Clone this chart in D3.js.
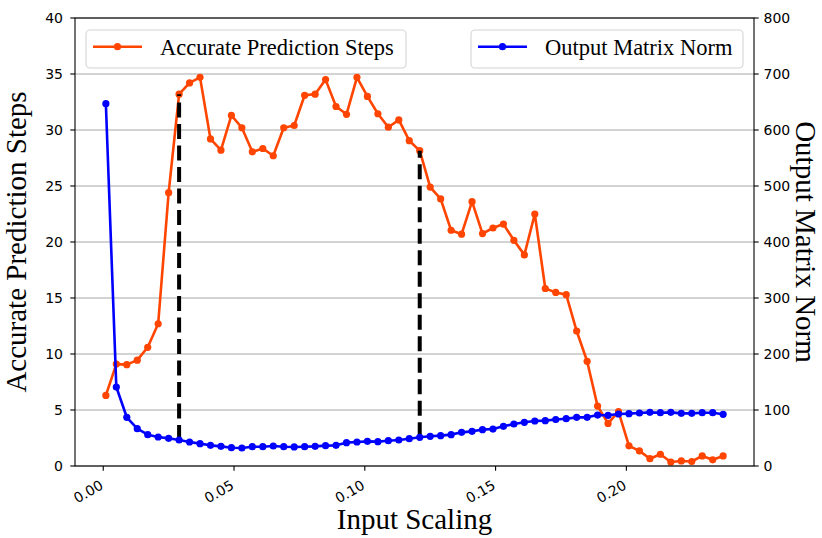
<!DOCTYPE html>
<html>
<head>
<meta charset="utf-8">
<script src="https://cdn.jsdelivr.net/npm/d3@7"></script>
<style>
  body { margin: 0; background: #fff; }
</style>
</head>
<body>
<div class="chart"></div>
<script>
// input scaling values (x)
var scaling = [0.001,0.005,0.009,0.013,0.017,0.021,0.025,0.029,0.033,0.037,
               0.041,0.045,0.049,0.053,0.057,0.061,0.065,0.069,0.073,0.077,
               0.081,0.085,0.089,0.093,0.097,0.101,0.105,0.109,0.113,0.117,
               0.121,0.125,0.129,0.133,0.137,0.141,0.145,0.149,0.153,0.157,
               0.161,0.165,0.169,0.173,0.177,0.181,0.185,0.189,0.193,0.197,
               0.201,0.205,0.209,0.213,0.217,0.221,0.225,0.229,0.233,0.237]

// accurate prediction steps (left axis)
var steps = [6.3,9.1,9.05,9.45,10.6,12.7,24.4,33.2,34.2,34.7,
             29.2,28.2,31.3,30.2,28.05,28.35,27.7,30.2,30.4,33.1,
             33.2,34.5,32.1,31.4,34.7,33.0,31.45,30.25,30.9,29.05,
             28.15,24.9,23.85,21.05,20.7,23.6,20.75,21.25,21.6,20.15,
             18.85,22.5,15.85,15.5,15.3,12.05,9.35,5.35,3.8,4.85,
             1.8,1.35,0.65,1.05,0.35,0.45,0.4,0.9,0.55,0.9]

// output matrix norm (right axis)
var norms = [647,141,87,66.6,55.9,51.8,49.4,46.4,42.9,39.9,
             36.9,35.1,32.7,32.1,34.5,34.5,35.7,34.5,34,34.5,
             35.1,36.3,36.9,41.7,42.9,44,43.5,45.2,46.4,48.8,
             51.2,53,54.2,56,60.1,61.9,64.9,66,70.8,75,
             78,80.4,81,83,84.5,86.9,86.9,91,90.5,92.9,
             93.5,94.6,95.8,95.2,95.8,94,94,95.2,95.2,92.3]

// indices where the dashed markers are drawn
var markIdx = [7, 30]

var leftTicks = [0,5,10,15,20,25,30,35,40]
var rightTicks = [0,100,200,300,400,500,600,700,800]
var xTicks = [0.00,0.05,0.10,0.15,0.20]

var W = 822, H = 538
var L = 75, R = 754, T = 18, B = 466
var orange = "#ff4500", blue = "#0000ff"
var serif = "'Liberation Serif', 'Times New Roman', serif"
var sans = "'DejaVu Sans', sans-serif"

var svg = d3.select(".chart").append("svg").attr("width", W).attr("height", H)
svg.append("rect").attr("width", W).attr("height", H).attr("fill", "#fff")

var xmin = d3.min(scaling), xmax = d3.max(scaling), pad = (xmax - xmin) * 0.05
var x = d3.scaleLinear().domain([xmin - pad, xmax + pad]).range([L, R])
var y1 = d3.scaleLinear().domain([0, 40]).range([B, T])
var y2 = d3.scaleLinear().domain([0, 800]).range([B, T])

// grid
svg.append("g").selectAll("line").data(leftTicks).enter().append("line")
  .attr("x1", L).attr("x2", R)
  .attr("y1", d => y1(d)).attr("y2", d => y1(d))
  .attr("stroke", "#c4c4c4").attr("stroke-width", 1.3)

// orange series
var line1 = d3.line().x((d, i) => x(scaling[i])).y(d => y1(d))
svg.append("path").datum(steps).attr("d", line1)
  .attr("fill", "none").attr("stroke", orange).attr("stroke-width", 2.6).attr("stroke-linejoin", "round")
svg.append("g").selectAll("circle").data(steps).enter().append("circle")
  .attr("cx", (d, i) => x(scaling[i])).attr("cy", d => y1(d)).attr("r", 3.6).attr("fill", orange)

// dashed markers from the norm value up to the steps value
svg.append("g").selectAll("line").data(markIdx).enter().append("line")
  .attr("x1", i => x(scaling[i])).attr("x2", i => x(scaling[i]))
  .attr("y1", i => y2(norms[i])).attr("y2", i => y1(steps[i]))
  .attr("stroke", "#000").attr("stroke-width", 4).attr("stroke-dasharray", "15,6.5")

// blue series
var line2 = d3.line().x((d, i) => x(scaling[i])).y(d => y2(d))
svg.append("path").datum(norms).attr("d", line2)
  .attr("fill", "none").attr("stroke", blue).attr("stroke-width", 2.6).attr("stroke-linejoin", "round")
svg.append("g").selectAll("circle").data(norms).enter().append("circle")
  .attr("cx", (d, i) => x(scaling[i])).attr("cy", d => y2(d)).attr("r", 3.6).attr("fill", blue)

// frame
svg.append("rect").attr("x", L).attr("y", T).attr("width", R - L).attr("height", B - T)
  .attr("fill", "none").attr("stroke", "#000").attr("stroke-width", 1.1)

// left axis ticks
var gl = svg.append("g")
gl.selectAll("line").data(leftTicks).enter().append("line")
  .attr("x1", L - 4.7).attr("x2", L).attr("y1", d => y1(d)).attr("y2", d => y1(d))
  .attr("stroke", "#000").attr("stroke-width", 1.1)
gl.selectAll("text").data(leftTicks).enter().append("text")
  .attr("x", L - 12).attr("y", d => y1(d)).attr("dy", "0.36em")
  .attr("text-anchor", "end").style("font-family", sans).style("font-size", "14px")
  .text(d => d)

// right axis ticks
var gr = svg.append("g")
gr.selectAll("line").data(rightTicks).enter().append("line")
  .attr("x1", R).attr("x2", R + 4.7).attr("y1", d => y2(d)).attr("y2", d => y2(d))
  .attr("stroke", "#000").attr("stroke-width", 1.1)
gr.selectAll("text").data(rightTicks).enter().append("text")
  .attr("x", R + 9.5).attr("y", d => y2(d)).attr("dy", "0.36em")
  .attr("text-anchor", "start").style("font-family", sans).style("font-size", "14px")
  .text(d => d)

// x ticks, rotated labels
var gx = svg.append("g")
gx.selectAll("line").data(xTicks).enter().append("line")
  .attr("x1", d => x(d)).attr("x2", d => x(d)).attr("y1", B).attr("y2", B + 4.7)
  .attr("stroke", "#000").attr("stroke-width", 1.1)
gx.selectAll("text").data(xTicks).enter().append("text")
  .attr("transform", d => "translate(" + (x(d) + 1) + "," + 488 + ") rotate(-30)")
  .attr("text-anchor", "end").style("font-family", sans).style("font-size", "14px")
  .text(d => d.toFixed(2))

// axis labels
svg.append("text").attr("x", (L + R) / 2).attr("y", 529).attr("text-anchor", "middle")
  .style("font-family", serif).style("font-size", "29px").text("Input Scaling")
svg.append("text").attr("transform", "translate(26," + (T + B) / 2 + ") rotate(-90)")
  .attr("text-anchor", "middle").style("font-family", serif).style("font-size", "29px")
  .text("Accurate Prediction Steps")
svg.append("text").attr("transform", "translate(796," + (T + B) / 2 + ") rotate(90)")
  .attr("text-anchor", "middle").style("font-family", serif).style("font-size", "29px")
  .text("Output Matrix Norm")

// legends
function legend(x0, x1, color, label) {
  var g = svg.append("g")
  g.append("rect").attr("x", x0).attr("y", 30).attr("width", x1 - x0).attr("height", 38)
    .attr("rx", 4).attr("fill", "#fff").attr("fill-opacity", 0.8)
    .attr("stroke", "#d4d4d4").attr("stroke-width", 1.1)
  g.append("line").attr("x1", x0 + 7).attr("x2", x0 + 56).attr("y1", 46.7).attr("y2", 46.7)
    .attr("stroke", color).attr("stroke-width", 2.6)
  g.append("circle").attr("cx", x0 + 31.5).attr("cy", 46.7).attr("r", 3.6).attr("fill", color)
  g.append("text").attr("x", x0 + 74).attr("y", 54.5)
    .style("font-family", serif).style("font-size", "22.5px").text(label)
}
legend(86, 406, orange, "Accurate Prediction Steps")
legend(471, 743, blue, "Output Matrix Norm")
</script>
</body>
</html>
